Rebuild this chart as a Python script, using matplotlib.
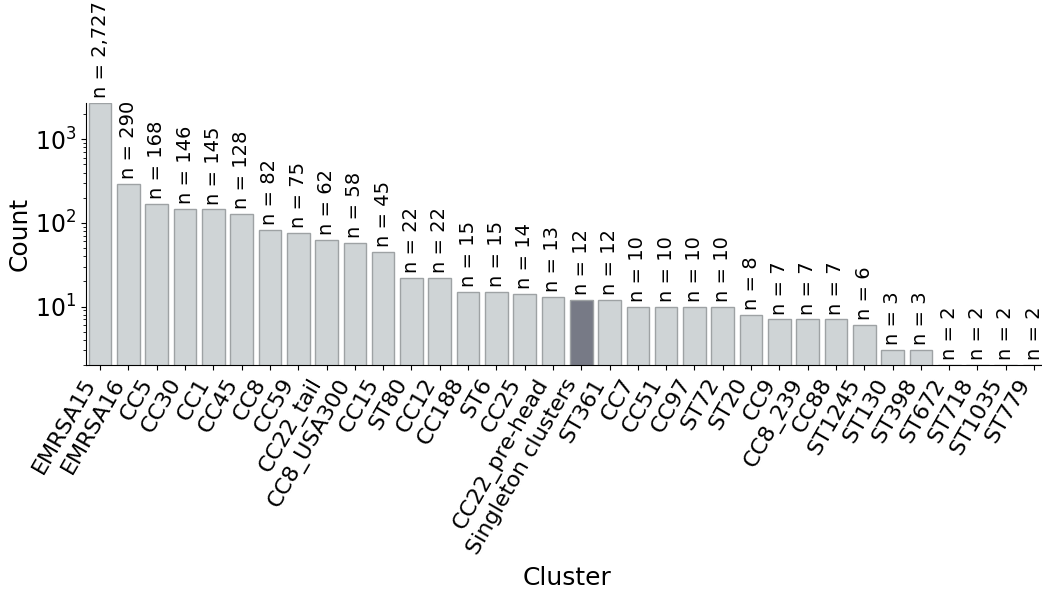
import matplotlib
matplotlib.use("Agg")
from matplotlib import pyplot as plt

clusters = ["EMRSA15", "EMRSA16", "CC5", "CC30", "CC1", "CC45", "CC8", "CC59",
            "CC22_tail", "CC8_USA300", "CC15", "ST80", "CC12", "CC188", "ST6",
            "CC25", "CC22_pre-head", "Singleton clusters", "ST361", "CC7", "CC51",
            "CC97", "ST72", "ST20", "CC9", "CC8_239", "CC88", "ST1245", "ST130",
            "ST398", "ST672", "ST718", "ST1035", "ST779"]
counts = [2727, 290, 168, 146, 145, 128, 82, 75, 62, 58, 45, 22, 22, 15, 15,
          14, 13, 12, 12, 10, 10, 10, 10, 8, 7, 7, 7, 6, 3, 3, 2, 2, 2, 2]
highlight = "Singleton clusters"

fig = plt.figure(figsize=(10.42, 5.91), dpi=100)
ax = fig.add_axes([0.0825, 0.3824, 0.9235, 0.4436])

colors = ["#777a86" if c == highlight else "#cfd4d6" for c in clusters]
x = range(len(clusters))
bars = ax.bar(x, counts, width=0.8, color=colors, edgecolor="#9ea2a4", linewidth=1)

for xi, v in zip(x, counts):
    ax.annotate(f"n = {v:,}", (xi, v), xytext=(0, 3.5), textcoords="offset points",
                rotation=90, ha="center", va="bottom", fontsize=14)

ax.set_yscale("log")
ax.set_ylim(2, 2727)
ax.set_xlim(-0.5, len(clusters) - 0.5)
ax.set_xticks(list(x))
ax.set_xticklabels(clusters, rotation=60, ha="right", fontsize=16)
ax.tick_params(axis="y", labelsize=17)
ax.set_xlabel("Cluster", fontsize=18, labelpad=6)
ax.set_ylabel("Count", fontsize=18, labelpad=2)
ax.spines["top"].set_visible(False)
ax.spines["right"].set_visible(False)

plt.savefig("out.png", dpi=100)
